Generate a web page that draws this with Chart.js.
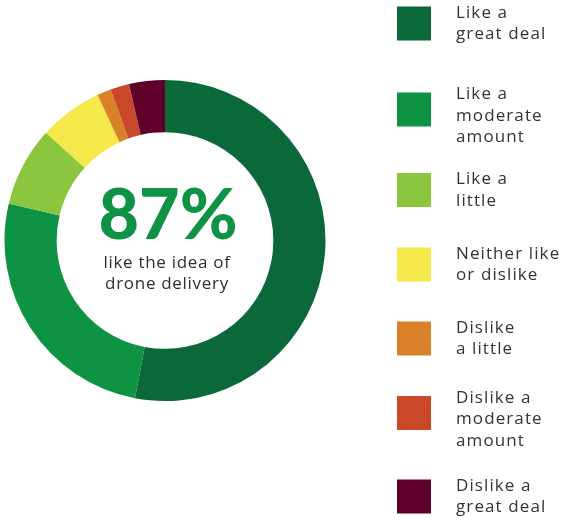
<!DOCTYPE html>
<html>
<head>
<meta charset="utf-8">
<script src="https://cdn.jsdelivr.net/npm/chart.js@4"></script>
<style>
  html, body { margin: 0; padding: 0; background: #ffffff; }
  #wrap { width: 561px; height: 518px; position: relative; }
</style>
</head>
<body>
<div id="wrap"><canvas id="c" width="561" height="518"></canvas></div>
<script>
// Survey responses on drone delivery (percent of respondents)
const categories = [
  ["Like a", "great deal"],
  ["Like a", "moderate", "amount"],
  ["Like a", "little"],
  ["Neither like", "or dislike"],
  ["Dislike", "a little"],
  ["Dislike a", "moderate", "amount"],
  ["Dislike a", "great deal"]
];
const shares = [53, 25.7, 8, 6.4, 1.4, 1.9, 3.6];
const colors = ["#0b6939", "#0e9344", "#8cc63f", "#f4e84b", "#d98128", "#c9482a", "#5f0028"];
const headline = "87%";
const subline = ["like the idea of", "drone delivery"];

// Legend squares: vertical centres of each entry
const legendCenters = [23.5, 109.5, 190, 264.5, 338.5, 413, 496.5];

const centerText = {
  id: "centerText",
  afterDraw(chart) {
    const { ctx } = chart;
    const arc = chart.getDatasetMeta(0).data[0];
    const cx = arc.x, cy = arc.y;
    ctx.save();
    ctx.textAlign = "center";
    ctx.textBaseline = "alphabetic";
    ctx.fillStyle = "#0e9344";
    ctx.font = "900 70px Lato";
    ctx.letterSpacing = "0px";
    ctx.fillText(headline, cx + 3, cy - 2);
    ctx.fillStyle = "#2e2e2e";
    ctx.font = "17px 'Open Sans'";
    ctx.letterSpacing = "0.7px";
    ctx.fillText(subline[0], cx + 2, cy + 27);
    ctx.fillText(subline[1], cx + 2, cy + 48);
    ctx.restore();
  }
};

const sideLegend = {
  id: "sideLegend",
  afterDraw(chart) {
    const { ctx } = chart;
    const bg = chart.data.datasets[0].backgroundColor;
    const labels = chart.data.labels;
    ctx.save();
    ctx.font = "17px 'Open Sans'";
    ctx.letterSpacing = "1.1px";
    ctx.textBaseline = "middle";
    labels.forEach((lines, i) => {
      const yc = legendCenters[i];
      const size = 34;
      const top = yc - size / 2;
      ctx.fillStyle = bg[i];
      ctx.fillRect(397, top, size, size);
      ctx.fillStyle = "#333";
      const lh = 21.5;
      const first = lines.length === 3 ? top + 2 : yc - lh / 2;
      lines.forEach((t, k) => {
        ctx.fillText(t, 456, first + k * lh);
      });
    });
    ctx.restore();
  }
};

new Chart(document.getElementById("c"), {
  type: "doughnut",
  data: {
    labels: categories,
    datasets: [{
      data: shares,
      backgroundColor: colors,
      borderWidth: 0
    }]
  },
  options: {
    responsive: false,
    animation: false,
    cutout: "67.5%",
    layout: { padding: { left: 4, right: 235, top: 80, bottom: 117 } },
    plugins: {
      legend: { display: false },
      tooltip: { enabled: true }
    }
  },
  plugins: [centerText, sideLegend]
});
</script>
</body>
</html>
